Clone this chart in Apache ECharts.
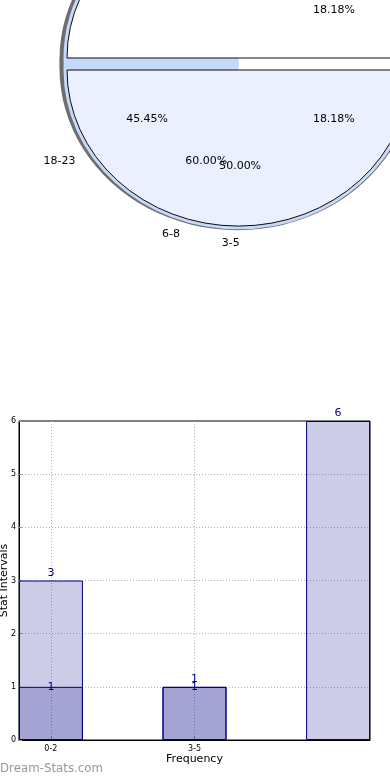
<!DOCTYPE html>
<html><head><meta charset="utf-8">
<script src="https://cdn.jsdelivr.net/npm/echarts@6/dist/echarts.min.js"></script>
<style>
html,body{margin:0;padding:0;background:#fff;overflow:hidden;}
#bar{position:absolute;left:0;top:0;width:390px;height:780px;}
#pie{position:absolute;left:0;top:-30px;width:390px;height:320px;transform-origin:0 94px;transform:scaleY(0.91);}
</style></head><body>
<div id="bar"></div><div id="pie"></div>
<script>
// ---- pie data (three overlaid pies) ----
const pieANames = ['18-23', '', '', ''];
const pieAValues = [5, 2, 2, 2];
const pieBNames = ['6-8', ''];
const pieBValues = [3, 2];
const pieCNames = ['3-5', ''];
const pieCValues = [1, 1];

// ---- bar data ----
const barCategories = ['0-2', '3-5', ''];
const barTotals = [3, 1, 6];
const barSub = [1, 1, null];
const yTickValues = [0, 1, 2, 3, 4, 5, 6];
const xTickValues = [0, 1];

const F = 'DejaVu Sans';

// ---------- pie chart ----------
const OY = 30;
const CX = 238.5, CY = 64 + OY, LX = 240.5;
function disc(center, r, items, startAngle) {
  return {
    type: 'pie', silent: true, animation: false, center: [center[0], center[1] + OY], radius: [0, r],
    startAngle: startAngle == null ? 90 : startAngle, clockwise: true,
    label: {show: false}, labelLine: {show: false}, emphasis: {disabled: true},
    data: items.map(it => ({value: it.v, itemStyle: {color: it.c, borderColor: it.b || 'transparent', borderWidth: it.b ? 1 : 0}}))
  };
}
function pctPie(names, values, startAngle) {
  const sum = values.reduce((a, b) => a + b, 0);
  return {
    type: 'pie', silent: true, animation: false, center: [LX, CY], radius: [0, 216],
    startAngle: startAngle, clockwise: true, avoidLabelOverlap: false,
    labelLayout: {hideOverlap: false},
    itemStyle: {color: 'rgba(0,0,0,0)'},
    label: {show: true, position: 'inside', fontFamily: F, fontSize: 11, color: '#000',
      formatter: p => (p.value / sum * 100).toFixed(2) + '%'},
    labelLine: {show: false}, emphasis: {disabled: true},
    data: values.map((v, i) => ({name: names[i], value: v}))
  };
}
function namePie(names, values, startAngle) {
  return {
    type: 'pie', silent: true, animation: false, center: [LX, CY], radius: [0, 176],
    startAngle: startAngle, clockwise: true, avoidLabelOverlap: false,
    labelLayout: {hideOverlap: false},
    itemStyle: {color: 'rgba(0,0,0,0)'},
    label: {show: true, position: 'outside', fontFamily: F, fontSize: 11, color: '#000',
      formatter: '{b}', distanceToLabelLine: 0},
    labelLine: {show: false, length: 20, length2: 0}, emphasis: {disabled: true},
    data: values.map((v, i) => ({name: names[i], value: v, label: {show: names[i] !== ''}}))
  };
}
const pieChart = echarts.init(document.getElementById('pie'), null, {renderer: 'svg'});
pieChart.setOption({
  animation: false,
  series: [
    disc([237.5, 59], 178, [{v: 1, c: '#6e6e6e'}]),
    disc([237.5, 68.6], 178, [{v: 1, c: '#6e6e6e'}]),
    disc([CX, 57.4], 175, [{v: 1, c: '#c5d9f9'}]),
    disc([CX, 70.6], 175, [{v: 1, c: '#ffffff'}, {v: 3, c: '#c5d9f9'}], 90),
    disc([CX, 57.4], 171.5, [{v: 1, c: '#ffffff', b: '#000'}, {v: 1, c: 'rgba(0,0,0,0)'}], 180),
    disc([CX, 70.6], 171.5, [{v: 1, c: '#eaf0fd', b: '#000'}, {v: 1, c: 'rgba(0,0,0,0)'}], 0),
    pctPie(pieCNames, pieCValues, 359.8),
    namePie(pieCNames, pieCValues, 359.8),
    pctPie(pieANames, pieAValues, 294.5),
    namePie(pieANames, pieAValues, 294.5),
    pctPie(pieBNames, pieBValues, 360),
    namePie(pieBNames, pieBValues, 360)
  ]
});

// ---------- bar chart ----------
const barChart = echarts.init(document.getElementById('bar'));
const navyFill = 'rgba(0,0,128,0.2)';
const gridLine = {type: [1, 2], color: '#b4b4b4', width: 1};
barChart.setOption({
  animation: false,
  textStyle: {fontFamily: F},
  grid: {left: 19, right: 20, top: 421, bottom: 40, show: true, borderColor: '#000', borderWidth: 1,
    containLabel: false, outerBoundsMode: 'none'},
  xAxis: {
    type: 'value', min: -0.2222, max: 2.2222,
    name: 'Frequency', nameLocation: 'middle', nameGap: 14, nameMoveOverlap: false,
    nameTextStyle: {fontFamily: F, fontSize: 11, color: '#000'},
    axisLine: {show: true, onZero: false, lineStyle: {color: '#000'}},
    axisTick: {show: true, inside: true, customValues: xTickValues, length: 3, lineStyle: {color: '#999'}},
    axisLabel: {customValues: xTickValues, fontFamily: F, fontSize: 8, color: '#000', margin: 5,
      formatter: v => barCategories[Math.round(v)]},
    splitLine: {show: true, lineStyle: gridLine}
  },
  yAxis: {
    type: 'value', min: yTickValues[0], max: yTickValues[yTickValues.length - 1], interval: 1,
    name: 'Stat Intervals', nameLocation: 'middle', nameGap: 9, nameMoveOverlap: false,
    nameTextStyle: {fontFamily: F, fontSize: 11, color: '#000'},
    axisLine: {show: true, onZero: false, lineStyle: {color: '#000'}},
    axisTick: {show: true, inside: true, length: 3, lineStyle: {color: '#999'}},
    axisLabel: {fontFamily: F, fontSize: 8, color: '#000', margin: 3},
    splitLine: {show: true, showMinLine: false, showMaxLine: false, lineStyle: gridLine}
  },
  series: [
    {
      type: 'bar', barWidth: 64, barGap: '-100%',
      data: barTotals.map((v, i) => [i, v]),
      itemStyle: {color: navyFill, borderColor: '#000080', borderWidth: 1},
      label: {show: true, position: 'top', distance: 2, color: '#000080', fontFamily: F, fontSize: 11},
      emphasis: {disabled: true}
    },
    {
      type: 'bar', barWidth: 64, barGap: '-100%',
      data: barSub.map((v, i) => [i, v]).filter(d => d[1] != null),
      itemStyle: {color: navyFill, borderColor: '#000080', borderWidth: 1},
      label: {show: true, position: 'top', distance: 2, offset: [0, 8], color: '#000080', fontFamily: F, fontSize: 11},
      emphasis: {disabled: true}
    }
  ],
  graphic: [{
    type: 'text', left: 0, top: 763,
    style: {text: 'Dream-Stats.com', fill: '#999999', font: '11.8px "DejaVu Sans"'}
  }]
});
</script>
</body></html>
